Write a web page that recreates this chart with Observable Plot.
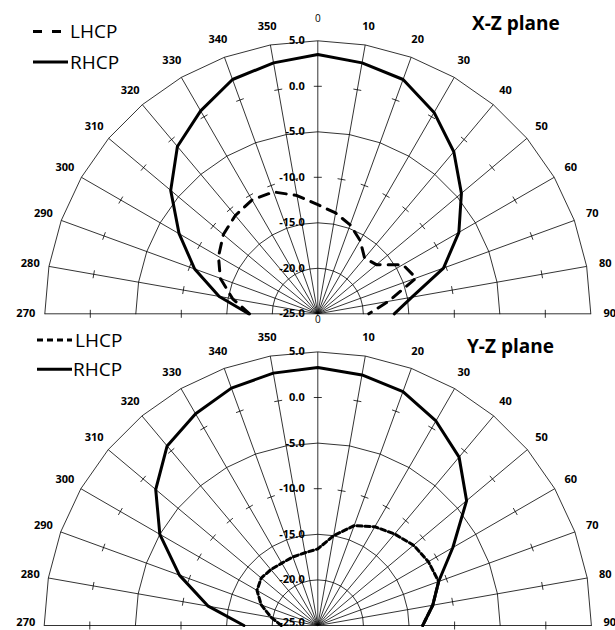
<!DOCTYPE html>
<html><head><meta charset="utf-8">
<script src="https://cdn.jsdelivr.net/npm/d3@7"></script>
<script src="https://cdn.jsdelivr.net/npm/@observablehq/plot@0.6"></script>
<style>
body{margin:0;background:#fff;font-family:"Open Sans",sans-serif;}
.panel{position:relative;width:615px;height:315px;}
.panel svg.overlay{position:absolute;left:0;top:0;pointer-events:none;overflow:visible;font-family:"Open Sans",sans-serif;}
</style></head><body><div id="chart"></div>
<script>
// ---- data ----
const angles = [270,280,290,300,310,320,330,340,350,0,10,20,30,40,50,60,70,80,90];
const angleLabels = ["270","280","290","300","310","320","330","340","350","0","10","20","30","40","50","60","70","80","90"];
const radialTicks = [5,0,-5,-10,-15,-20,-25];
const radialLabels = ["5.0","0.0","-5.0","-10.0","-15.0","-20.0","-25.0"];
const gridRings = [5,-5,-15,-20];
const spokeTicks = [0,-10];
const dbMin = -25, dbMax = 5;

const xzLHCP = [-17.5,-15.5,-13.6,-12.4,-11.45,-10.9,-10.55,-10.75,-11.8,-13.0,-13.75,-14.6,-15.7,-17.0,-16.6,-14.2,-13.5,-17.1,-19.4];
const xzRHCP = [-17.4,-14.0,-10.6,-7.4,-3.9,-1.0,0.75,2.4,3.0,3.5,3.0,2.4,0.55,-1.75,-4.4,-7.1,-10.3,-14.5,-16.6];
const yzLHCP = [-21.0,-19.8,-18.4,-17.3,-16.9,-17.0,-17.1,-17.0,-16.9,-16.6,-15.0,-13.35,-12.5,-11.9,-11.3,-11.0,-10.9,-12.2,-13.5];
const yzRHCP = [-16.9,-12.8,-8.85,-5.0,-1.8,0.7,1.8,2.7,3.1,3.3,2.9,2.3,0.9,-0.9,-3.7,-7.9,-10.9,-12.2,-13.5];

// ---- helpers ----
const rad = a => a * Math.PI / 180;
const px = (v, a) => (v - dbMin) * Math.sin(rad(a));
const py = (v, a) => (v - dbMin) * Math.cos(rad(a));

function panel(opt) {
  const W = 615, H = 315, k = opt.k, cx = opt.cx, cy = opt.cy;
  const ringData = gridRings.flatMap(r => angles.map(a => ({ring: r, x: px(r, a), y: py(r, a)})));
  const h = 4 / k;
  const tickData = angles.flatMap(a => spokeTicks.map(v => {
    const t = rad(a);
    return {x1: px(v, a) - h * Math.cos(t), y1: py(v, a) + h * Math.sin(t),
            x2: px(v, a) + h * Math.cos(t), y2: py(v, a) - h * Math.sin(t)};
  }));
  const series = vals => angles.map((a, i) => ({x: px(vals[i], a), y: py(vals[i], a)}));
  const labR = 292 / k;
  const idx = angles.map((a, i) => ({a, i}));
  const inner = idx.filter(d => d.a !== 0 && d.a !== 270 && d.a !== 90);
  const edge = idx.filter(d => d.a === 270 || d.a === 90);
  const zero = idx.filter(d => d.a === 0);
  const rIdx = radialTicks.map((v, i) => ({v, i}));
  const lx = d => labR * Math.sin(rad(d.a)), ly = d => labR * Math.cos(rad(d.a));
  const plot = Plot.plot({
    width: W, height: H, margin: 0,
    x: {type: "linear", domain: [-cx / k, (W - cx) / k], range: [0, W], axis: null},
    y: {type: "linear", domain: [(cy - H) / k, cy / k], range: [H, 0], axis: null},
    style: {fontFamily: "Open Sans, sans-serif", background: "transparent", overflow: "visible"},
    marks: [
      Plot.line(ringData, {x: "x", y: "y", z: "ring", stroke: "black", strokeWidth: 0.8}),
      Plot.link(angles, {x1: () => 0, y1: () => 0, x2: a => px(dbMax, a), y2: a => py(dbMax, a), stroke: "black", strokeWidth: 0.8}),
      Plot.link(tickData, {x1: "x1", y1: "y1", x2: "x2", y2: "y2", stroke: "black", strokeWidth: 0.8}),
      Plot.line(series(opt.rhcp), {x: "x", y: "y", stroke: "black", strokeWidth: 3, strokeLinejoin: "round"}),
      Plot.line(series(opt.lhcp), {x: "x", y: "y", stroke: "black", strokeWidth: 3, strokeDasharray: opt.dash}),
      Plot.text(inner, {x: lx, y: ly, text: d => angleLabels[d.i], fontWeight: "bold", fontSize: 11, fill: "black"}),
      Plot.text(edge, {x: lx, y: ly, text: d => angleLabels[d.i], fontWeight: "bold", fontSize: 11, fill: "black", dy: opt.edgeDy}),
      Plot.text(zero, {x: lx, y: ly, text: d => angleLabels[d.i], fontSize: 10, dy: opt.zeroDy, fill: "black"}),
      Plot.text(rIdx.filter(d => d.v !== dbMin), {x: () => 0, y: d => d.v - dbMin, text: d => radialLabels[d.i], textAnchor: "end", dx: -13, fontWeight: "bold", fontSize: 11, fill: "black"}),
      Plot.text(rIdx.filter(d => d.v === dbMin), {x: () => 0, y: d => d.v - dbMin, text: d => radialLabels[d.i], textAnchor: "end", dx: -13, dy: opt.edgeDy, fontWeight: "bold", fontSize: 11, fill: "black"})
    ]
  });
  const div = document.createElement("div");
  div.className = "panel";
  div.appendChild(plot);
  const L = opt.legend;
  const ns = "http://www.w3.org/2000/svg";
  const ov = document.createElementNS(ns, "svg");
  ov.setAttribute("class", "overlay");
  ov.setAttribute("width", W); ov.setAttribute("height", H);
  ov.innerHTML = `
    <line x1="${L.x1}" x2="${L.x2d}" y1="${L.yd}" y2="${L.yd}" stroke="black" stroke-width="3" stroke-dasharray="${L.ldash}"/>
    <text x="${L.tx}" y="${L.yd + 6.5}" font-size="19" fill="black">LHCP</text>
    <line x1="${L.x1}" x2="${L.x2s}" y1="${L.ys}" y2="${L.ys}" stroke="black" stroke-width="3"/>
    <text x="${L.tx2}" y="${L.ys + 7}" font-size="19" fill="black">RHCP</text>
    <text x="${opt.titleX}" y="${opt.titleY}" font-size="19" font-weight="bold" fill="black">${opt.title}</text>`;
  div.appendChild(ov);
  return div;
}

const root = document.getElementById("chart");
root.appendChild(panel({
  k: 9.1, cx: 317.3, cy: 313.3, lhcp: xzLHCP, rhcp: xzRHCP, dash: "10,8", zeroDy: -3, edgeDy: 0,
  title: "X-Z plane", titleX: 472, titleY: 29.5,
  legend: {x1: 33, x2d: 62, x2s: 68, yd: 31.5, ys: 62, tx: 70, tx2: 70, ldash: "9,10"}
}));
root.appendChild(panel({
  k: 9.12, cx: 317.3, cy: 310, lhcp: yzLHCP, rhcp: yzRHCP, dash: "5,3", zeroDy: -14, edgeDy: -3,
  title: "Y-Z plane", titleX: 467, titleY: 37.7,
  legend: {x1: 37, x2d: 72, x2s: 72, yd: 25, ys: 54.3, tx: 75, tx2: 73, ldash: "6,4"}
}));
</script></body></html>
